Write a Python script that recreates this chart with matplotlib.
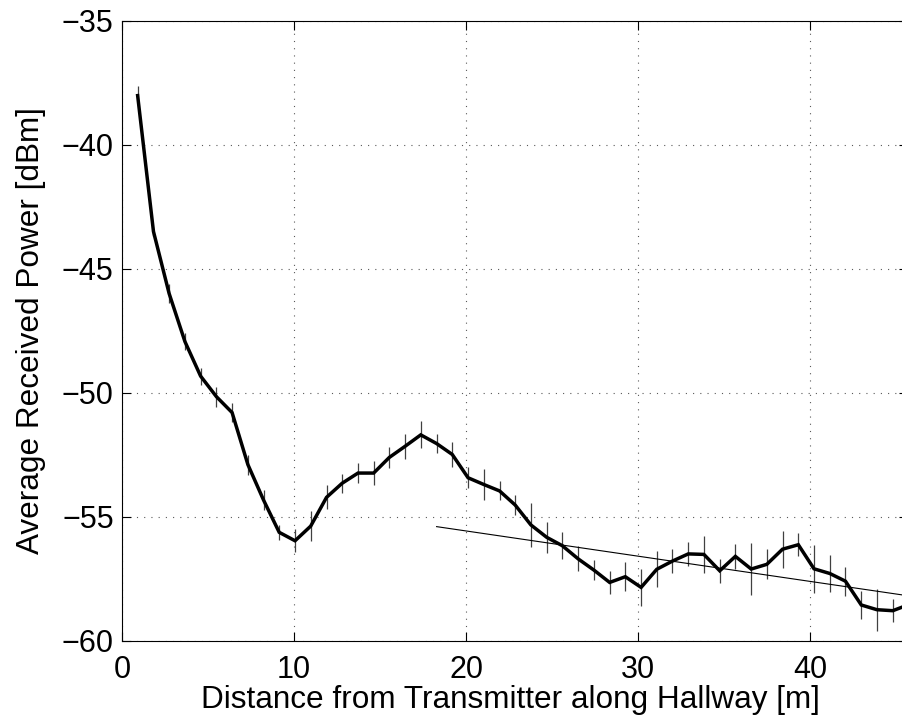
import matplotlib
matplotlib.use("Agg")
import matplotlib.pyplot as plt

plt.rcParams["font.family"] = ["Liberation Sans", "DejaVu Sans"]

# measurement positions along the hallway (every 3 ft)
distance_m = [
    0.91, 1.83, 2.74, 3.66, 4.57, 5.49, 6.40, 7.32, 8.23, 9.14,
    10.06, 10.97, 11.89, 12.80, 13.72, 14.63, 15.54, 16.46, 17.37, 18.29,
    19.20, 20.12, 21.03, 21.95, 22.86, 23.77, 24.69, 25.60, 26.52, 27.43,
    28.35, 29.26, 30.18, 31.09, 32.00, 32.92, 33.83, 34.75, 35.66, 36.58,
    37.49, 38.40, 39.32, 40.23, 41.15, 42.06, 42.98, 43.89, 44.81, 45.72,
]
# mean received power [dBm]
power_dbm = [
    -38.02, -43.50, -46.00, -47.94, -49.33, -50.16, -50.80, -52.90, -54.33, -55.63,
    -55.97, -55.38, -54.22, -53.65, -53.24, -53.24, -52.61, -52.16, -51.70, -52.05,
    -52.49, -53.43, -53.70, -53.96, -54.53, -55.33, -55.83, -56.17, -56.70, -57.15,
    -57.65, -57.42, -57.85, -57.12, -56.79, -56.50, -56.52, -57.18, -56.60, -57.11,
    -56.92, -56.31, -56.13, -57.10, -57.29, -57.60, -58.56, -58.75, -58.79, -58.55,
]
# spread of the power readings at each position [dB]
power_err = [
    0.39, 0.20, 0.37, 0.35, 0.34, 0.40, 0.39, 0.40, 0.40, 0.30,
    0.47, 0.60, 0.48, 0.39, 0.39, 0.50, 0.42, 0.50, 0.54, 0.40,
    0.52, 0.42, 0.62, 0.38, 0.39, 0.89, 0.62, 0.54, 0.50, 0.42,
    0.45, 0.58, 0.74, 0.72, 0.48, 0.48, 0.74, 0.48, 0.50, 1.05,
    0.60, 0.75, 0.47, 0.96, 0.74, 0.58, 0.56, 0.85, 0.46, 0.50,
]
# linear fit over the far part of the hallway
fit_distance = [18.29, 45.72]
fit_power = [-55.40, -58.19]

x_ticks = [0, 10, 20, 30, 40]
y_ticks = [-60, -55, -50, -45, -40, -35]

fig = plt.figure(figsize=(9.03, 7.27), dpi=100)
ax = fig.add_axes([0.1351, 0.1187, 0.8709, 0.8528])

ax.errorbar(distance_m, power_dbm, yerr=power_err, fmt="none",
            ecolor="0.25", elinewidth=0.9, capsize=0, zorder=2)
ax.plot(fit_distance, fit_power, color="black", linewidth=0.8, zorder=3)
ax.plot(distance_m, power_dbm, color="black", linewidth=2.5,
        solid_joinstyle="miter", zorder=4)

ax.set_xlim(0, 45.72)
ax.set_ylim(-60, -35)
ax.set_xticks(x_ticks)
ax.set_yticks(y_ticks)
ax.grid(True, color="0.35", linestyle=(0, (1, 5.5)), linewidth=0.8)

ax.tick_params(direction="in", top=True, right=True, length=6.5, width=0.8,
               labelsize=22, colors="black")
ax.tick_params(axis="x", pad=10)
ax.tick_params(axis="y", pad=6)
for spine in ax.spines.values():
    spine.set_linewidth(0.8)

ax.set_xlabel("Distance from Transmitter along Hallway [m]", fontsize=22.7)
ax.set_ylabel("Average Received Power [dBm]", fontsize=22.7)
ax.xaxis.set_label_coords(0.4934, -0.072)
ax.yaxis.set_label_coords(-0.0966, 0.5)

fig.savefig("out.png", dpi=100)
